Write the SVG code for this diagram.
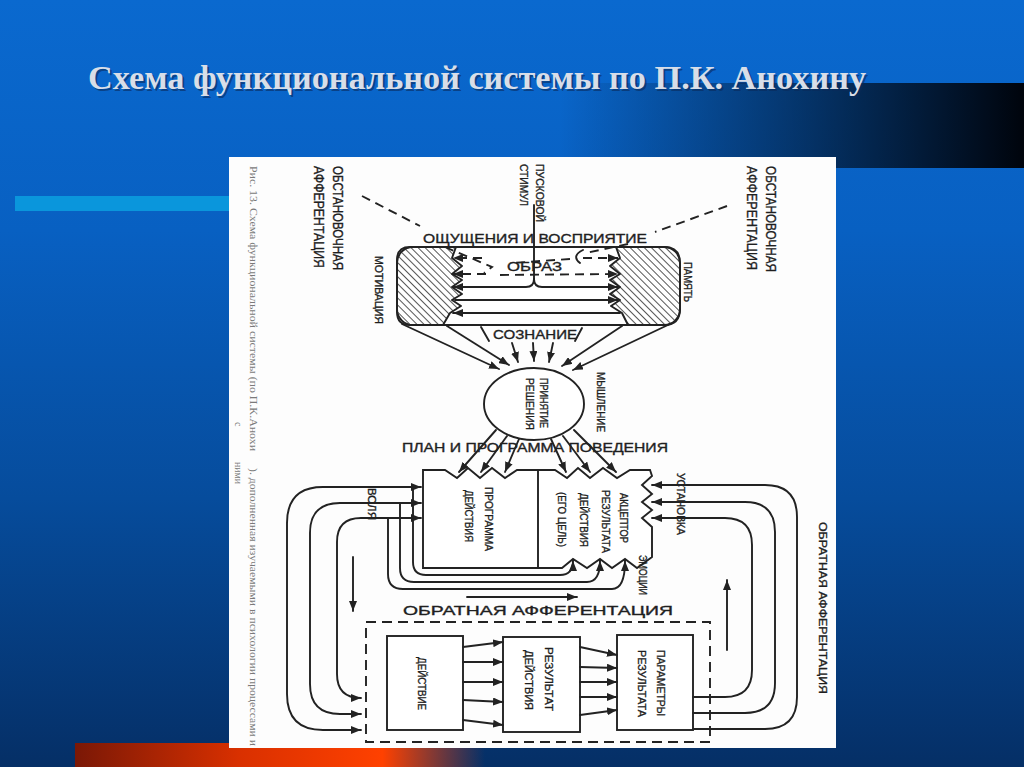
<svg xmlns="http://www.w3.org/2000/svg" width="1024" height="767" viewBox="0 0 1024 767">
<defs>
<linearGradient id="bg" x1="0" y1="0" x2="0" y2="1">
<stop offset="0" stop-color="#0a69cf"/>
<stop offset="0.3" stop-color="#0860c2"/>
<stop offset="0.65" stop-color="#064c9c"/>
<stop offset="1" stop-color="#052f66"/>
</linearGradient>
<linearGradient id="band" x1="0" y1="0" x2="1" y2="0">
<stop offset="0" stop-color="#000814" stop-opacity="0"/>
<stop offset="0.45" stop-color="#000814" stop-opacity="0.45"/>
<stop offset="1" stop-color="#00040c" stop-opacity="1"/>
</linearGradient>
<linearGradient id="red" x1="0" y1="0" x2="1" y2="0">
<stop offset="0" stop-color="#7a1806"/>
<stop offset="0.4" stop-color="#d93000"/>
<stop offset="0.75" stop-color="#ff4100"/>
<stop offset="1" stop-color="#ff4100" stop-opacity="0"/>
</linearGradient>
<pattern id="hatch" width="5" height="5" patternUnits="userSpaceOnUse" patternTransform="rotate(-45)">
<line x1="0" y1="0" x2="0" y2="5" stroke="#2a2a2a" stroke-width="1.6"/>
</pattern>
<marker id="ah" viewBox="0 0 10 8" refX="10" refY="4" markerWidth="10" markerHeight="8" markerUnits="userSpaceOnUse" orient="auto-start-reverse"><path d="M0,0 L10,4 L0,8 Z" fill="#222"/></marker>
<style>
.ln{fill:none;stroke:#222;stroke-width:1.9;stroke-linejoin:round;stroke-linecap:round}
.dl{fill:none;stroke:#222;stroke-width:1.9;stroke-dasharray:9 6}
.ar{marker-end:url(#ah)}
.as{marker-start:url(#ah)}
.bx{fill:#fff;stroke:#222;stroke-width:1.9}
.lb{font-family:"Liberation Sans",Arial,sans-serif;fill:#1f1f1f;stroke:#1f1f1f;stroke-width:0.35;font-size:11.5px}
.lg{font-family:"Liberation Sans",Arial,sans-serif;fill:#1f1f1f;stroke:#1f1f1f;stroke-width:0.35;font-size:15px}
.hz{font-family:"Liberation Sans",Arial,sans-serif;fill:#1f1f1f;stroke:#1f1f1f;stroke-width:0.35;font-size:13px}
.cap{font-family:"Liberation Serif","Times New Roman",serif;fill:#7a7a7a;font-size:10px}
.title{font-family:"Liberation Serif","Times New Roman",serif;font-weight:bold;font-size:34px}
</style>
</defs>

<g id="background">
<rect x="0" y="0" width="1024" height="767" fill="url(#bg)"/>
<rect x="560" y="83" width="464" height="85" fill="url(#band)"/>
<rect x="15" y="196" width="214" height="15" fill="#0a96dc"/>
<rect x="75" y="743" width="410" height="24" fill="url(#red)"/>
</g>

<g id="title">
<text class="title" x="90" y="91" fill="#0a2a5a" fill-opacity="0.6" textLength="778" lengthAdjust="spacingAndGlyphs">Схема функциональной системы по П.К. Анохину</text>
<text class="title" x="88" y="89" fill="#d8dee8" textLength="778" lengthAdjust="spacingAndGlyphs">Схема функциональной системы по П.К. Анохину</text>
</g>

<rect id="panel" x="229" y="157" width="607" height="591" fill="#fdfdfd"/>

<g id="caption">
<text class="cap" transform="translate(250,166) rotate(90)" textLength="285" lengthAdjust="spacingAndGlyphs">Рис. 13. Схема функциональной системы (по П.К.Анохи</text>
<text class="cap" transform="translate(250,468) rotate(90)" textLength="278" lengthAdjust="spacingAndGlyphs">). дополненная изучаемыми в психологии процессами и</text>
<text class="cap" transform="translate(235,422) rotate(90)">с</text>
<text class="cap" transform="translate(235,462) rotate(90)" textLength="22" lengthAdjust="spacingAndGlyphs">ними</text>
</g>

<g id="labels-top">
<text class="lg" transform="translate(333,166) rotate(90)" textLength="104" lengthAdjust="spacingAndGlyphs">ОБСТАНОВОЧНАЯ</text>
<text class="lg" transform="translate(314,166) rotate(90)" textLength="102" lengthAdjust="spacingAndGlyphs">АФФЕРЕНТАЦИЯ</text>
<text class="lg" transform="translate(766,166) rotate(90)" textLength="106" lengthAdjust="spacingAndGlyphs">ОБСТАНОВОЧНАЯ</text>
<text class="lg" transform="translate(747,166) rotate(90)" textLength="104" lengthAdjust="spacingAndGlyphs">АФФЕРЕНТАЦИЯ</text>
<text class="lb" font-size="13" transform="translate(536,164) rotate(90)" textLength="58" lengthAdjust="spacingAndGlyphs">ПУСКОВОЙ</text>
<text class="lb" font-size="13" transform="translate(520,164) rotate(90)" textLength="42" lengthAdjust="spacingAndGlyphs">СТИМУЛ</text>
<text class="hz" x="423" y="243" textLength="224" lengthAdjust="spacingAndGlyphs">ОЩУЩЕНИЯ И ВОСПРИЯТИЕ</text>
<text class="lb" transform="translate(375,256) rotate(90)" textLength="68" lengthAdjust="spacingAndGlyphs">МОТИВАЦИЯ</text>
<text class="lb" transform="translate(684,262) rotate(90)" textLength="40" lengthAdjust="spacingAndGlyphs">ПАМЯТЬ</text>
</g>

<g id="perception-block">
<rect class="bx" x="397" y="247" width="283" height="78" rx="16"/>
<path d="M410,247 L456,247 L452,258 L462,266 L452,274 L462,280 L452,287 L462,294 L452,300 L461,306 L450,313 L443,325 L410,325 Q397,325 397,312 L397,260 Q397,247 410,247 Z" fill="url(#hatch)" stroke="#222" stroke-width="1.9" stroke-linejoin="round"/>
<path d="M616,247 L620,258 L610,266 L620,274 L610,280 L620,287 L610,294 L620,300 L611,306 L622,313 L628,325 L664,325 Q680,325 680,309 L680,263 Q680,247 664,247 Z" fill="url(#hatch)" stroke="#222" stroke-width="1.9" stroke-linejoin="round"/>
<text class="hz" x="507" y="271" textLength="55" lengthAdjust="spacingAndGlyphs">ОБРАЗ</text>
</g>

<g id="decision">
<ellipse class="bx" cx="534" cy="404" rx="50" ry="36"/>
<text class="lb" transform="translate(540,378) rotate(90)" textLength="50" lengthAdjust="spacingAndGlyphs">ПРИНЯТИЕ</text>
<text class="lb" transform="translate(526,378) rotate(90)" textLength="52" lengthAdjust="spacingAndGlyphs">РЕШЕНИЯ</text>
<text class="lb" transform="translate(597,372) rotate(90)" textLength="60" lengthAdjust="spacingAndGlyphs">МЫШЛЕНИЕ</text>
<text class="hz" x="493" y="339" textLength="84" lengthAdjust="spacingAndGlyphs">СОЗНАНИЕ</text>
<text class="hz" x="402" y="452" textLength="266" lengthAdjust="spacingAndGlyphs">ПЛАН И ПРОГРАММА ПОВЕДЕНИЯ</text>
</g>

<g id="program-acceptor">
<path class="bx" d="M423,568 L423,470 L445,470 L457,478 L468,468 L480,478 L492,468 L505,478 L517,470 L555,470 L567,478 L578,468 L590,478 L603,468 L617,478 L630,470 L650,470 L652,476 L642,485 L652,494 L642,502 L652,510 L642,518 L652,527 L652,557 L637,568 L625,559 L612,568 L600,559 L587,568 L573,559 L562,568 Z"/>
<path class="ln" d="M538,470 L538,568"/>
<text class="lb" transform="translate(485,487) rotate(90)" textLength="64" lengthAdjust="spacingAndGlyphs">ПРОГРАММА</text>
<text class="lb" transform="translate(465,490) rotate(90)" textLength="52" lengthAdjust="spacingAndGlyphs">ДЕЙСТВИЯ</text>
<text class="lb" transform="translate(620,493) rotate(90)" textLength="50" lengthAdjust="spacingAndGlyphs">АКЦЕПТОР</text>
<text class="lb" transform="translate(602,490) rotate(90)" textLength="63" lengthAdjust="spacingAndGlyphs">РЕЗУЛЬТАТА</text>
<text class="lb" transform="translate(580,493) rotate(90)" textLength="54" lengthAdjust="spacingAndGlyphs">ДЕЙСТВИЯ</text>
<text class="lb" transform="translate(558,492) rotate(90)" textLength="55" lengthAdjust="spacingAndGlyphs">(ЕГО ЦЕЛЬ)</text>
<text class="lb" transform="translate(677,473) rotate(90)" textLength="62" lengthAdjust="spacingAndGlyphs">УСТАНОВКА</text>
<text class="lb" transform="translate(368,488) rotate(90)" textLength="32" lengthAdjust="spacingAndGlyphs">ВОЛЯ</text>
<text class="lb" transform="translate(639,555) rotate(90)" textLength="40" lengthAdjust="spacingAndGlyphs">ЭМОЦИИ</text>
</g>

<g id="feedback-label">
<text class="hz" font-size="14" x="403" y="615" textLength="270" lengthAdjust="spacingAndGlyphs">ОБРАТНАЯ АФФЕРЕНТАЦИЯ</text>
<text class="lb" font-size="14" transform="translate(819,522) rotate(90)" textLength="172" lengthAdjust="spacingAndGlyphs">ОБРАТНАЯ АФФЕРЕНТАЦИЯ</text>
</g>

<g id="action-zone">
<rect x="366" y="622" width="344" height="120" fill="none" stroke="#222" stroke-width="1.9" stroke-dasharray="10 6"/>
</g>
<g id="action">
<rect class="bx" x="387" y="636" width="76" height="94"/>
<text class="lb" transform="translate(418,657) rotate(90)" textLength="53" lengthAdjust="spacingAndGlyphs">ДЕЙСТВИЕ</text>
</g>
<g id="result">
<rect class="bx" x="503" y="637" width="77" height="95"/>
<text class="lb" transform="translate(545,647) rotate(90)" textLength="64" lengthAdjust="spacingAndGlyphs">РЕЗУЛЬТАТ</text>
<text class="lb" transform="translate(525,650) rotate(90)" textLength="60" lengthAdjust="spacingAndGlyphs">ДЕЙСТВИЯ</text>
</g>
<g id="parameters">
<rect class="bx" x="617" y="635" width="76" height="95"/>
<text class="lb" transform="translate(657,650) rotate(90)" textLength="66" lengthAdjust="spacingAndGlyphs">ПАРАМЕТРЫ</text>
<text class="lb" transform="translate(638,650) rotate(90)" textLength="67" lengthAdjust="spacingAndGlyphs">РЕЗУЛЬТАТА</text>
</g>

<g id="connectors">
<path class="dl" d="M362,196 L420,226"/>
<path class="dl" d="M445,247 L492,267 L484,273"/>
<path class="dl" d="M727,206 L655,232"/>
<path class="dl" d="M628,244 L586,253"/>
<path class="ln" d="M583,250 Q571,256 580,263"/>
<path class="dl" d="M570,259 L512,263"/>
<path class="dl ar" d="M482,258 L453,258"/>
<path class="dl ar" d="M583,258 L618,258"/>
<path class="dl ar" d="M486,274 L453,274"/>
<path class="dl ar" d="M500,275 L618,274"/>
<path class="ln" d="M534,205 L534,279"/>
<path class="ln ar" d="M534,279 Q534,287 526,287 L453,287"/>
<path class="ln ar" d="M534,279 Q534,287 542,287 L618,287"/>
<path class="ln ar" d="M455,300 L618,300"/>
<path class="ln ar" d="M620,313 L453,313"/>
<path class="ln ar" d="M402,324 L499,369"/>
<path class="ln ar" d="M447,326 L509,365"/>
<path class="ln" d="M481,327 L489,341"/>
<path class="ln ar" d="M512,343 L518,362"/>
<path class="ln ar" d="M533,343 L534,361"/>
<path class="ln ar" d="M553,343 L549,362"/>
<path class="ln" d="M582,328 L575,341"/>
<path class="ln ar" d="M622,326 L562,366"/>
<path class="ln ar" d="M670,324 L573,370"/>
<path class="ln ar" d="M496,430 L459,472"/>
<path class="ln ar" d="M507,436 L481,472"/>
<path class="ln ar" d="M519,439 L505,472"/>
<path class="ln ar" d="M551,439 L566,472"/>
<path class="ln ar" d="M563,436 L590,472"/>
<path class="ln ar" d="M574,430 L616,472"/>
<path class="ln ar as" d="M421,487 L323,487 Q287,487 287,523 L287,694 Q287,730 323,730 L361,730"/>
<path class="ln ar as" d="M421,503 L340,503 Q310,503 310,533 L310,684 Q310,714 340,714 L361,714"/>
<path class="ln ar as" d="M421,518 L361,518 Q337,518 337,542 L337,674 Q337,698 361,698 L361,698"/>
<path class="ln ar" d="M413,487 L413,562 Q413,575 426,575 L560,575 Q573,575 573,561"/>
<path class="ln ar" d="M400,503 L400,568 Q400,582 414,582 L587,582 Q600,582 600,561"/>
<path class="ln ar" d="M388,518 L388,574 Q388,589 403,589 L612,589 Q625,589 625,561"/>
<path class="ln ar" d="M693,729 L765,729 Q797,729 797,697 L797,517 Q797,485 765,485 L652,485"/>
<path class="ln ar" d="M693,713 L745,713 Q775,713 775,683 L775,532 Q775,502 745,502 L652,502"/>
<path class="ln ar" d="M693,697 L725,697 Q752,697 752,670 L752,545 Q752,518 725,518 L652,518"/>
<path class="ln ar" d="M467,597 L577,597"/>
<path class="ln ar" d="M353,557 L353,611"/>
<path class="ln ar" d="M727,650 L727,580"/>
<path class="ln ar" d="M463,647 L503,642"/>
<path class="ln ar" d="M463,662 L503,662"/>
<path class="ln ar" d="M463,682 L503,682"/>
<path class="ln ar" d="M463,700 L503,702"/>
<path class="ln ar" d="M463,720 L503,725"/>
<path class="ln ar" d="M580,647 L617,655"/>
<path class="ln ar" d="M580,667 L617,668"/>
<path class="ln ar" d="M580,682 L617,682"/>
<path class="ln ar" d="M580,697 L617,697"/>
<path class="ln ar" d="M580,715 L617,710"/>
</g>
</svg>
